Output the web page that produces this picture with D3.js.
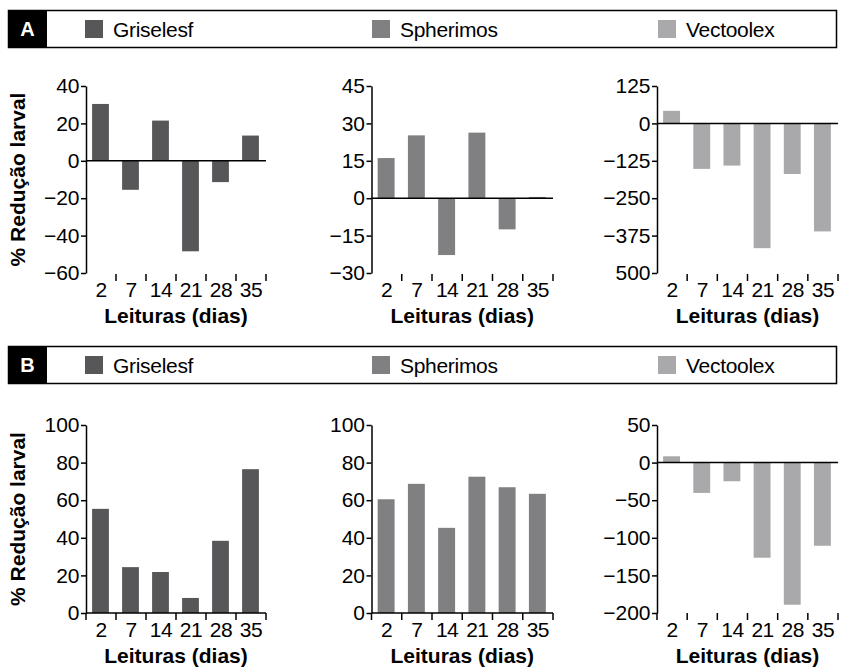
<!DOCTYPE html>
<html>
<head>
<meta charset="utf-8">
<script src="https://cdn.jsdelivr.net/npm/d3@7"></script>
<style>
  body { margin: 0; background: #fff; }
  svg { display: block; font-family: "Liberation Sans", Arial, sans-serif; }
</style>
</head>
<body>
<div id="chart"></div>
<script>
// categories and series
const days = ['2', '7', '14', '21', '28', '35'];
const seriesNames = ['Griselesf', 'Spherimos', 'Vectoolex'];
const seriesColors = ['#575759', '#808083', '#a9a9ab'];

// panel A values
const griselesfA = [30.4, -15.5, 21.5, -48.4, -11.4, 13.5];
const spherimosA = [16.1, 25.2, -22.8, 26.3, -12.5, 0.5];
const vectoolexA = [42, -152, -141, -417, -169, -361];

// panel B values
const griselesfB = [55.4, 24.4, 21.8, 8, 38.4, 76.5];
const spherimosB = [60.5, 68.7, 45.3, 72.5, 66.9, 63.4];
const vectoolexB = [8.4, -40.3, -24.8, -126.5, -189, -110.6];

// y tick values and labels (as printed)
const ticksA1 = [40, 20, 0, -20, -40, -60];
const labelsA1 = ['40', '20', '0', '−20', '−40', '−60'];
const ticksA2 = [45, 30, 15, 0, -15, -30];
const labelsA2 = ['45', '30', '15', '0', '−15', '−30'];
const ticksA3 = [125, 0, -125, -250, -375, -500];
const labelsA3 = ['125', '0', '−125', '−250', '−375', '500'];
const ticksB1 = [100, 80, 60, 40, 20, 0];
const labelsB1 = ['100', '80', '60', '40', '20', '0'];
const ticksB3 = [50, 0, -50, -100, -150, -200];
const labelsB3 = ['50', '0', '−50', '−100', '−150', '−200'];

const yTitle = '% Redução larval';
const xTitle = 'Leituras (dias)';

const width = 842, height = 670;
const svg = d3.select('#chart').append('svg')
  .attr('width', width)
  .attr('height', height);

// legend strip for a row
function drawLegend(top, letter) {
  const g = svg.append('g').attr('transform', `translate(0, ${top})`);
  g.append('rect')
    .attr('x', 8.5).attr('y', 0.5)
    .attr('width', 828).attr('height', 37)
    .attr('fill', '#fff').attr('stroke', '#000').attr('stroke-width', 1.5);
  g.append('rect')
    .attr('x', 8).attr('y', 0)
    .attr('width', 39).attr('height', 38)
    .attr('fill', '#000');
  g.append('text')
    .attr('x', 27.5).attr('y', 26)
    .attr('text-anchor', 'middle')
    .attr('fill', '#fff')
    .style('font-size', '20px').style('font-weight', 'bold')
    .text(letter);

  const legendX = [85, 372, 658];
  seriesNames.forEach((name, i) => {
    g.append('rect')
      .attr('x', legendX[i]).attr('y', 10)
      .attr('width', 18).attr('height', 18)
      .attr('fill', seriesColors[i]);
    g.append('text')
      .attr('x', legendX[i] + 28).attr('y', 26.5)
      .style('font-size', '21px')
      .style('letter-spacing', '-0.3px')
      .text(name);
  });
}

// one bar panel
function drawPanel(opts) {
  const { x0, x1, top, bottom, domain, values, color, ticks, labels, showYTitle, zeroAxis } = opts;

  const x = d3.scaleBand().domain(days).range([x0, x1]).padding(0);
  const y = d3.scaleLinear().domain(domain).range([bottom, top]);
  const g = svg.append('g');

  // bars
  const bw = x.step() * 0.56;
  g.selectAll('rect.bar')
    .data(values)
    .join('rect')
    .attr('class', 'bar')
    .attr('x', (d, i) => x(days[i]) + (x.step() - bw) / 2 - 0.5)
    .attr('width', bw)
    .attr('y', d => Math.min(y(d), y(0)))
    .attr('height', d => Math.abs(y(d) - y(0)))
    .attr('fill', color);

  // y axis
  const yAxis = d3.axisLeft(y)
    .tickValues(ticks)
    .tickFormat((d, i) => labels[i])
    .tickSize(5)
    .tickSizeOuter(0)
    .tickPadding(1.5);
  const ya = g.append('g')
    .attr('transform', `translate(${x0}, 0)`)
    .call(yAxis);
  ya.selectAll('text').style('font-size', '21px').attr('fill', '#000');
  ya.selectAll('line, path').attr('stroke', '#000').attr('stroke-width', 1.5);

  // baseline at zero
  g.append('line')
    .attr('x1', x0).attr('x2', x1)
    .attr('y1', y(0)).attr('y2', y(0))
    .attr('stroke', '#000').attr('stroke-width', 1.5);

  // ticks between categories
  const bounds = zeroAxis ? [x0].concat(days.map(d => x(d) + x.step())) : days.map(d => x(d) + x.step());
  const tickTop = zeroAxis ? bottom : bottom + 1;
  g.selectAll('line.xtick')
    .data(bounds)
    .join('line')
    .attr('class', 'xtick')
    .attr('x1', d => d).attr('x2', d => d)
    .attr('y1', tickTop).attr('y2', tickTop + 7)
    .attr('stroke', '#000').attr('stroke-width', 1.5);

  // category labels
  g.selectAll('text.xlab')
    .data(days)
    .join('text')
    .attr('class', 'xlab')
    .attr('x', d => x(d) + x.step() / 2)
    .attr('y', bottom + 24)
    .attr('text-anchor', 'middle')
    .style('font-size', '21px')
    .style('letter-spacing', '-0.5px')
    .text(d => d);

  // x title
  g.append('text')
    .attr('x', (x0 + x1) / 2)
    .attr('y', bottom + 50)
    .attr('text-anchor', 'middle')
    .style('font-size', '21px').style('font-weight', 'bold')
    .text(xTitle);

  if (showYTitle) {
    g.append('text')
      .attr('transform', `translate(25, ${(top + bottom) / 2}) rotate(-90)`)
      .attr('text-anchor', 'middle')
      .style('font-size', '21px').style('font-weight', 'bold')
      .text(yTitle);
  }
}

drawLegend(10, 'A');
drawLegend(346, 'B');

const colsX = [[86, 266], [371.5, 553], [657, 838]];
const rowA = { top: 86, bottom: 273, zeroAxis: false };
const rowB = { top: 425, bottom: 613, zeroAxis: true };

drawPanel({ ...rowA, x0: colsX[0][0], x1: colsX[0][1], domain: [-60, 40], values: griselesfA, color: seriesColors[0], ticks: ticksA1, labels: labelsA1, showYTitle: true });
drawPanel({ ...rowA, x0: colsX[1][0], x1: colsX[1][1], domain: [-30, 45], values: spherimosA, color: seriesColors[1], ticks: ticksA2, labels: labelsA2 });
drawPanel({ ...rowA, x0: colsX[2][0], x1: colsX[2][1], domain: [-500, 125], values: vectoolexA, color: seriesColors[2], ticks: ticksA3, labels: labelsA3 });

drawPanel({ ...rowB, x0: colsX[0][0], x1: colsX[0][1], domain: [0, 100], values: griselesfB, color: seriesColors[0], ticks: ticksB1, labels: labelsB1, showYTitle: true });
drawPanel({ ...rowB, x0: colsX[1][0], x1: colsX[1][1], domain: [0, 100], values: spherimosB, color: seriesColors[1], ticks: ticksB1, labels: labelsB1 });
drawPanel({ ...rowB, x0: colsX[2][0], x1: colsX[2][1], domain: [-200, 50], values: vectoolexB, color: seriesColors[2], ticks: ticksB3, labels: labelsB3 });
</script>
</body>
</html>
